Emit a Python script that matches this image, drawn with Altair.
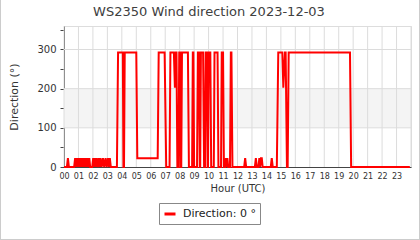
import altair as alt
import pandas as pd

# ---- data ----
hours = [
    0.00, 0.20, 0.27, 0.34, 0.70, 0.77, 0.84, 0.91, 0.98, 1.05, 1.11, 1.16, 1.21, 1.27, 1.33,
    1.40, 1.46, 1.52, 1.58, 1.64, 1.69, 1.75, 1.81, 1.95, 2.02, 2.08, 2.14, 2.20, 2.26, 2.33,
    2.41, 2.47, 2.53, 2.60, 2.70, 2.78, 2.88, 2.95, 3.05, 3.11, 3.17, 3.24,
    3.66, 3.74, 4.07, 4.11, 4.15, 4.20, 5.00, 5.07, 6.48, 6.55, 6.96, 7.07,
    7.30, 7.36, 7.60, 7.67, 7.74, 7.78, 7.84, 7.92, 7.97, 8.02, 8.07, 8.11, 8.16, 8.57, 8.64,
    8.86, 8.91, 8.95, 9.00, 9.20, 9.26, 9.33, 9.39, 9.42, 9.47, 9.62, 9.69, 9.75, 9.80, 9.88,
    9.93, 9.96, 10.01, 10.12, 10.18, 10.36, 10.41, 10.62, 10.68, 10.86, 10.91, 11.00, 11.06,
    11.14, 11.20, 11.26, 11.30, 11.36, 11.48, 11.54, 11.58, 11.65,
    12.46, 12.53, 12.60, 13.20, 13.27, 13.34, 13.45, 13.51, 13.57, 13.62, 13.68, 13.74,
    14.30, 14.37, 14.44, 14.72, 14.82, 15.10, 15.17, 15.28, 15.33, 15.42, 15.47, 15.54,
    19.78, 19.86, 23.92,
]
direction = [
    0, 0, 22.5, 0, 0, 22.5, 0, 22.5, 0, 22.5, 0, 22.5, 0, 22.5, 0,
    22.5, 0, 22.5, 0, 22.5, 0, 22.5, 0, 0, 22.5, 0, 22.5, 0, 22.5, 0,
    22.5, 0, 22.5, 0, 22.5, 0, 22.5, 0, 22.5, 0, 22.5, 0,
    0, 292.5, 292.5, 0, 0, 292.5, 292.5, 22.5, 22.5, 292.5, 292.5, 0,
    0, 292.5, 292.5, 202.5, 292.5, 292.5, 0, 0, 292.5, 292.5, 0, 0, 292.5, 292.5, 0,
    0, 292.5, 292.5, 0, 0, 292.5, 292.5, 0, 0, 292.5, 292.5, 0, 0, 292.5, 292.5,
    0, 0, 292.5, 292.5, 0, 0, 292.5, 292.5, 0, 0, 292.5, 292.5, 0,
    0, 22.5, 0, 22.5, 0, 0, 292.5, 292.5, 0,
    0, 22.5, 0, 0, 22.5, 0, 0, 22.5, 0, 22.5, 22.5, 0,
    0, 22.5, 0, 0, 292.5, 292.5, 202.5, 292.5, 292.5, 0, 0, 292.5,
    292.5, 0, 0,
]
series_name = "Direction: 0 °"
title_text = ["WS2350 Wind direction 2023-12-03"]
hour_ticks = list(range(24))
hour_grid = list(range(25))
dir_ticks = [0, 50, 100, 150, 200, 250, 300, 350]
dir_grid = [100, 200, 300]
band_lo, band_hi = [100], [200]

FONT = "DejaVu Sans"
W, H = 347, 141

df = pd.DataFrame({"t": hours, "v": direction, "series": [series_name] * len(hours)})
band_df = pd.DataFrame({"lo": band_lo, "hi": band_hi, "x0": [0], "x1": [24]})
vgrid_df = pd.DataFrame({"h": hour_grid})
hgrid_df = pd.DataFrame({"d": dir_grid})
one = pd.DataFrame({"k": [0]})
title_df = pd.DataFrame({"txt": title_text})

xscale = alt.Scale(domain=[0, 24], nice=False, zero=False)
yscale = alt.Scale(domain=[0, 360], nice=False)

x_axis = alt.Axis(
    values=hour_ticks,
    labelExpr="(datum.value < 10 ? '0' : '') + datum.value",
    grid=False, ticks=False, domainColor="#444", domainWidth=1,
    labelFont=FONT, labelFontSize=8, labelColor="#333", labelPadding=5,
    labelFlush=False, labelOverlap=False,
    title="Hour (UTC)", titleFont=FONT, titleFontSize=10, titleFontWeight="normal",
    titleColor="#333", titleBaseline="alphabetic", titleY=24,
)
y_axis = alt.Axis(
    values=dir_ticks,
    labelExpr="datum.value % 100 === 0 ? datum.value : ''",
    grid=False, tickSize=4, tickColor="#444", domainColor="#444",
    labelFont=FONT, labelFontSize=10, labelColor="#333", labelPadding=4,
    title="Direction (°)", titleFont=FONT, titleFontSize=11, titleFontWeight="normal",
    titleColor="#333", titleX=-50, titleBaseline="middle",
)

band = alt.Chart(band_df).mark_rect(color="#f4f4f4").encode(
    x=alt.X("x0:Q", scale=xscale, axis=x_axis),
    x2="x1:Q",
    y=alt.Y("lo:Q", scale=yscale, axis=y_axis),
    y2="hi:Q",
)
vgrid = alt.Chart(vgrid_df).mark_rule(color="#dcdcdc", strokeWidth=1).encode(
    x=alt.X("h:Q", scale=xscale, axis=x_axis),
)
hgrid = alt.Chart(hgrid_df).mark_rule(color="#dcdcdc", strokeWidth=1).encode(
    y=alt.Y("d:Q", scale=yscale, axis=y_axis),
)
line = alt.Chart(df).mark_line(strokeWidth=2, strokeJoin="miter").encode(
    x=alt.X("t:Q", scale=xscale, axis=x_axis),
    y=alt.Y("v:Q", scale=yscale, axis=y_axis),
    color=alt.Color(
        "series:N",
        scale=alt.Scale(range=["#ff0000"]),
        legend=alt.Legend(
            orient="none", legendX=95, legendY=177, title=None,
            symbolType="stroke", symbolSize=121, symbolStrokeWidth=3,
            labelFont=FONT, labelFontSize=11, labelColor="#222", labelOffset=6,
            strokeColor="#888", fillColor="#ffffff", padding=4,
        ),
    ),
)
title = alt.Chart(title_df).mark_text(
    font=FONT, fontSize=13, color="#404040", align="center", baseline="alphabetic"
).encode(text="txt:N", x=alt.value(145), y=alt.value(-10.5))
frame_l = alt.Chart(one).mark_rule(color="#cccccc").encode(
    x=alt.value(-63.5), y=alt.value(-26), y2=alt.value(214))
frame_r = alt.Chart(one).mark_rule(color="#cccccc").encode(
    x=alt.value(355.5), y=alt.value(-26), y2=alt.value(214))
frame_b = alt.Chart(one).mark_rule(color="#cccccc").encode(
    x=alt.value(-64), x2=alt.value(356), y=alt.value(213.5))

chart = alt.layer(band, vgrid, hgrid, line, title, frame_l, frame_r, frame_b).properties(
    width=W, height=H,
    autosize=alt.AutoSizeParams(type="none"),
    padding={"left": 64, "top": 26, "right": 9, "bottom": 73},
).configure_view(stroke=None).configure(background="white")

chart.save("out.html", embed_options={"renderer": "svg", "actions": False})
